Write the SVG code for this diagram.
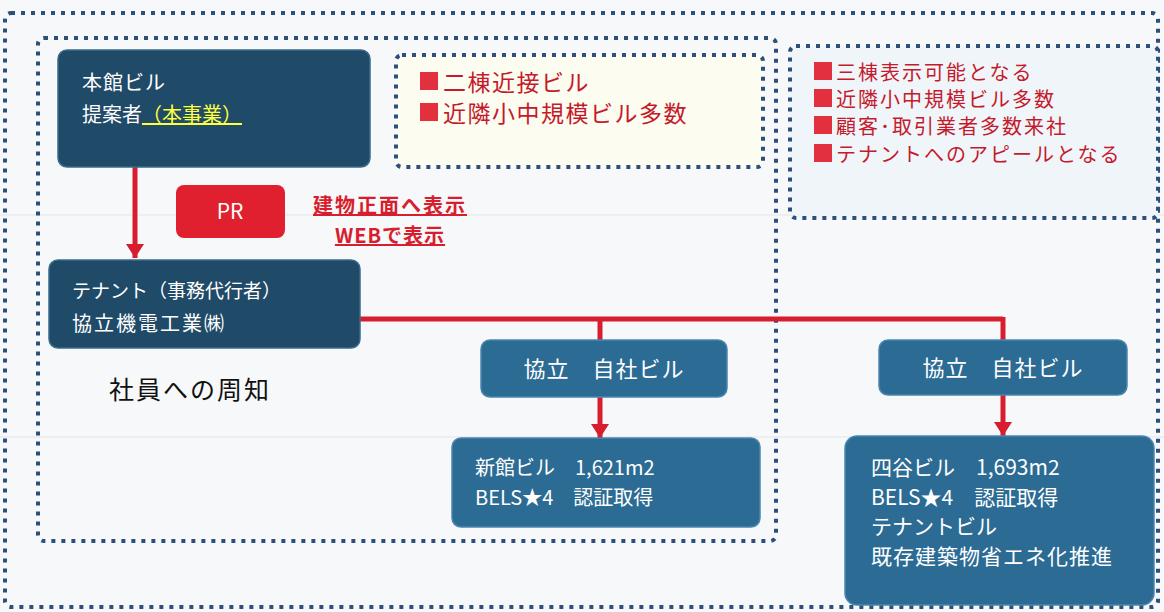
<svg xmlns="http://www.w3.org/2000/svg" width="1164" height="612" viewBox="0 0 1164 612">
<defs>
<style>
.dot{fill:none;stroke:#2c4f7c;stroke-width:4;stroke-dasharray:4 6}
.navy{fill:#1f4a68;stroke:#3a6a8c;stroke-width:1.5}
.mid{fill:#2b6b94;stroke:#4a86ae;stroke-width:1.5}
.wt{font-family:"Noto Sans CJK JP","Liberation Sans",sans-serif;fill:#ffffff;font-size:20px}
.rt{font-family:"Noto Sans CJK JP","Liberation Sans",sans-serif;fill:#c41a2c;font-size:20px;letter-spacing:2px}
.sq{fill:#e2303e}
.conn{stroke:#d81e2e;stroke-width:5;fill:none}
</style>
<marker id="ah2" markerWidth="14" markerHeight="18" refX="14" refY="9" orient="auto" markerUnits="userSpaceOnUse" viewBox="0 0 14 18">
<path d="M0,0 L14,9 L0,18 Z" fill="#d81e2e"/>
</marker>
</defs>
<rect width="1164" height="612" fill="#f6f8f9"/>
<line x1="0" y1="215" x2="1164" y2="215" stroke="#e2e4e6" stroke-width="1"/>
<line x1="0" y1="437" x2="1164" y2="437" stroke="#e2e4e6" stroke-width="1"/>

<g id="frames">
<rect class="dot" x="5" y="13" width="1153" height="594" rx="6"/>
<rect class="dot" x="38" y="38" width="738" height="503" rx="6"/>
<rect x="396" y="55" width="367" height="112" rx="6" fill="#fcfcf0"/>
<rect class="dot" x="396" y="55" width="367" height="112" rx="6"/>
<rect x="790" y="46" width="368" height="172" rx="6" fill="#eff5f9"/>
<rect class="dot" x="790" y="46" width="368" height="172" rx="6"/>
</g>

<g id="connectors">
<line class="conn" x1="135" y1="167" x2="135" y2="258" marker-end="url(#ah2)"/>
<polyline class="conn" points="278,319 1003,319"/>
<line class="conn" x1="600" y1="317" x2="600" y2="340"/>
<line class="conn" x1="1003" y1="317" x2="1003" y2="340"/>
<line class="conn" x1="600" y1="397" x2="600" y2="438" marker-end="url(#ah2)"/>
<line class="conn" x1="1003" y1="395" x2="1003" y2="436" marker-end="url(#ah2)"/>
</g>

<g id="honkan">
<rect class="navy" x="58" y="50" width="312" height="117" rx="9"/>
<text class="wt" x="82" y="90" style="letter-spacing:1px">本館ビル</text>
<text class="wt" x="82" y="122">提案者<tspan fill="#ffff40" text-decoration="underline">（本事業）</tspan></text>
</g>

<g id="pr">
<rect x="176" y="185" width="109" height="53" rx="8" fill="#e0202e"/>
<text x="230" y="219" text-anchor="middle" font-family="Noto Sans CJK JP, Liberation Sans, sans-serif" font-size="21" fill="#ffffff">PR</text>
</g>

<g id="pr-label">
<text x="390" y="213" text-anchor="middle" font-family="Noto Sans CJK JP, Liberation Sans, sans-serif" font-size="20" font-weight="bold" letter-spacing="2" fill="#d81e2e" text-decoration="underline">建物正面へ表示</text>
<text x="390" y="243" text-anchor="middle" font-family="Noto Sans CJK JP, Liberation Sans, sans-serif" font-size="20" font-weight="bold" letter-spacing="1" fill="#d81e2e" text-decoration="underline">WEBで表示</text>
</g>

<g id="tenant">
<rect class="navy" x="49" y="260" width="311" height="88" rx="9"/>
<text class="wt" x="72" y="298" style="font-size:19px">テナント（事務代行者）</text>
<text class="wt" x="72" y="331" style="letter-spacing:2px">協立機電工業㈱</text>
</g>

<g id="shain">
<text x="109" y="399" font-family="Noto Sans CJK JP, Liberation Sans, sans-serif" font-size="25" letter-spacing="2" fill="#111111">社員への周知</text>
</g>

<g id="kyoritsu1">
<rect class="mid" x="481" y="340" width="246" height="57" rx="9"/>
<text class="wt" x="604" y="377" text-anchor="middle" style="font-size:22px;letter-spacing:1px">協立　自社ビル</text>
</g>

<g id="shinkan">
<rect class="mid" x="452" y="438" width="308" height="89" rx="9"/>
<text class="wt" x="475" y="475">新館ビル　1,621m2</text>
<text class="wt" x="475" y="505">BELS★4　認証取得</text>
</g>

<g id="kyoritsu2">
<rect class="mid" x="879" y="340" width="248" height="55" rx="9"/>
<text class="wt" x="1003" y="376" text-anchor="middle" style="font-size:22px;letter-spacing:1px">協立　自社ビル</text>
</g>

<g id="yotsuya">
<rect class="mid" x="845" y="436" width="309" height="169" rx="12"/>
<text class="wt" x="871" y="475" style="font-size:21px">四谷ビル　1,693m2</text>
<text class="wt" x="871" y="505" style="font-size:21px">BELS★4　認証取得</text>
<text class="wt" x="871" y="534" style="font-size:21px">テナントビル</text>
<text class="wt" x="871" y="564" style="font-size:21px;letter-spacing:1px">既存建築物省エネ化推進</text>
</g>

<g id="note1">
<rect class="sq" x="420" y="72" width="18" height="18"/>
<text class="rt" x="443" y="91" style="font-size:23px;letter-spacing:1.5px">二棟近接ビル</text>
<rect class="sq" x="420" y="103" width="18" height="18"/>
<text class="rt" x="443" y="122" style="font-size:23px;letter-spacing:1.5px">近隣小中規模ビル多数</text>
</g>

<g id="note2">
<rect class="sq" x="814" y="62" width="18" height="18"/>
<text class="rt" x="836" y="80">三棟表示可能となる</text>
<rect class="sq" x="814" y="89" width="18" height="18"/>
<text class="rt" x="836" y="107">近隣小中規模ビル多数</text>
<rect class="sq" x="814" y="116" width="18" height="18"/>
<text class="rt" x="836" y="134">顧客･取引業者多数来社</text>
<rect class="sq" x="814" y="144" width="18" height="18"/>
<text class="rt" x="836" y="162">テナントへのアピールとなる</text>
</g>
</svg>
